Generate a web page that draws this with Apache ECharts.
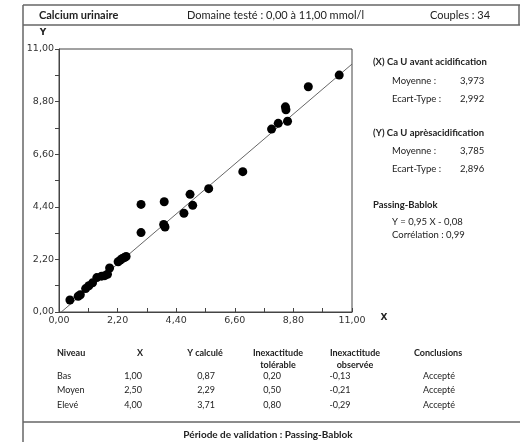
<!DOCTYPE html>
<html>
<head>
<meta charset="utf-8">
<script src="https://cdn.jsdelivr.net/npm/echarts@6/dist/echarts.min.js"></script>
<style>html,body{margin:0;padding:0;background:#fff}#c{width:520px;height:442px}</style>
</head>
<body>
<div id="c"></div>
<script>
// ---- data ----
const xValues = [0.41,0.72,0.80,1.00,1.12,1.26,1.42,1.60,1.72,1.82,1.90,2.22,2.30,2.38,2.46,2.52,3.08,3.08,3.93,3.96,3.98,3.95,4.69,4.92,5.02,5.62,6.90,7.98,8.23,8.50,8.52,8.58,9.36,10.52];
const yValues = [0.50,0.66,0.72,0.98,1.10,1.22,1.44,1.50,1.52,1.58,1.84,2.10,2.17,2.24,2.28,2.32,3.32,4.50,3.66,3.60,3.55,4.61,4.13,4.92,4.46,5.16,5.87,7.65,7.89,8.58,8.46,7.98,9.42,9.91];
const slope = 0.95, intercept = -0.08;
const axisMin = 0, axisMax = 11, axisStep = 1.1;

const statsX = {title:'(X) Ca U avant acidification', mean:'3,973', sd:'2,992'};
const statsY = {title:'(Y) Ca U aprèsacidification', mean:'3,785', sd:'2,896'};
const tableHeader = ['Niveau','X','Y calculé','Inexactitude','Inexactitude','Conclusions'];
const tableHeader2 = ['','','','tolérable','observée',''];
const levels = ['Bas','Moyen','Elevé'];
const levelX = ['1,00','2,50','4,00'];
const yCalc = ['0,87','2,29','3,71'];
const tolerable = ['0,20','0,50','0,80'];
const observed = ['-0,13','-0,21','-0,29'];
const conclusions = ['Accepté','Accepté','Accepté'];

// ---- chart ----
const pts = xValues.map((x,i)=>[x, yValues[i]]);
const x0 = -intercept/slope;
const linePts = [[x0, 0],[axisMax, slope*axisMax+intercept]];
const fmt = v => (Math.round(v/axisStep)%2===0) ? v.toFixed(2).replace('.',',') : '';
const FONT = 'Lato';
const gtext = (x,y,t,o={}) => ({type:'text', x:x, y:y, style:{text:t, font:(o.bold?'bold ':'')+(o.size||9)+'px '+FONT, fill:'#222', align:o.align||'left', verticalAlign:'middle'}});
const line = (x1,y1,x2,y2) => ({type:'line', shape:{x1,y1,x2,y2}, style:{stroke:'#666', lineWidth:1.5}});

const g = [];
g.push(line(23,5,520,5), line(23,25,520,25), line(519,5,519,25), line(23,5,23,442), line(23,422,520,422));
g.push(gtext(39,15,'Calcium urinaire',{bold:true,size:11}));
g.push(gtext(187,15,'Domaine testé : 0,00 à 11,00 mmol/l',{size:11}));
g.push(gtext(430,15,'Couples : 34',{size:11}));
g.push({type:'text', x:43, y:33, style:{text:'Y', font:'bold 9px DejaVu Sans', fill:'#222', align:'center', verticalAlign:'middle'}});
g.push({type:'text', x:384, y:318, style:{text:'X', font:'bold 9px DejaVu Sans', fill:'#222', align:'center', verticalAlign:'middle'}});
// right panel
g.push(gtext(373,62,statsX.title,{bold:true,size:9.5}));
g.push(gtext(392,81,'Moyenne :',{size:9.5}), gtext(460,81,statsX.mean,{size:9.5}));
g.push(gtext(392,99,'Ecart-Type :',{size:9.5}), gtext(460,99,statsX.sd,{size:9.5}));
g.push(gtext(373,133,statsY.title,{bold:true,size:9.5}));
g.push(gtext(392,151,'Moyenne :',{size:9.5}), gtext(460,151,statsY.mean,{size:9.5}));
g.push(gtext(392,169,'Ecart-Type :',{size:9.5}), gtext(460,169,statsY.sd,{size:9.5}));
g.push(gtext(373,205,'Passing-Bablok',{bold:true,size:9.5}));
g.push(gtext(392,222,'Y = 0,95 X - 0,08',{size:9.5}));
g.push(gtext(392,235,'Corrélation : 0,99',{size:9.5}));
// table
const colX = [57, 140, 205, 278, 355, 438];
const colAlign = ['left','center','center','center','center','center'];
tableHeader.forEach((h,i)=>g.push(gtext(colX[i],353,h,{bold:true,align:colAlign[i]})));
tableHeader2.forEach((h,i)=>{ if(h) g.push(gtext(colX[i],365,h,{bold:true,align:colAlign[i]})); });
const valX = [57, 133, 206, 272, 340, 439];
const rowY = [376, 390, 405];
levels.forEach((l,r)=>{
  const row = [l, levelX[r], yCalc[r], tolerable[r], observed[r], conclusions[r]];
  row.forEach((v,i)=>g.push(gtext(valX[i], rowY[r], v, {align:colAlign[i]})));
});
g.push(gtext(268,435,'Période de validation : Passing-Bablok',{bold:true,size:10,align:'center'}));

const axisCommon = {
  type:'value', min:axisMin, max:axisMax, interval:axisStep,
  axisLine:{show:true, lineStyle:{color:'#444', width:1}},
  splitLine:{show:false},
  axisLabel:{formatter:fmt, color:'#333', fontSize:9.5, fontFamily:'DejaVu Sans'}
};

const chart = echarts.init(document.getElementById('c'), null, {renderer:'canvas'});
chart.setOption({
  animation:false,
  backgroundColor:'#fff',
  grid:{left:59, top:49, width:293, height:263, show:true, borderColor:'#444', borderWidth:1, backgroundColor:'transparent'},
  xAxis:Object.assign({}, axisCommon, {axisTick:{show:true, inside:true, length:4, lineStyle:{color:'#444'}}, axisLabel:Object.assign({}, axisCommon.axisLabel, {margin:4})}),
  yAxis:Object.assign({}, axisCommon, {axisTick:{show:true, inside:false, length:4, lineStyle:{color:'#444'}}, axisLabel:Object.assign({}, axisCommon.axisLabel, {margin:5})}),
  series:[
    {type:'line', data:linePts, symbol:'none', lineStyle:{color:'#666', width:1}, silent:true, z:1},
    {type:'scatter', data:pts, symbolSize:9, itemStyle:{color:'#000', opacity:1}, z:2}
  ],
  graphic:g
});
</script>
</body>
</html>
